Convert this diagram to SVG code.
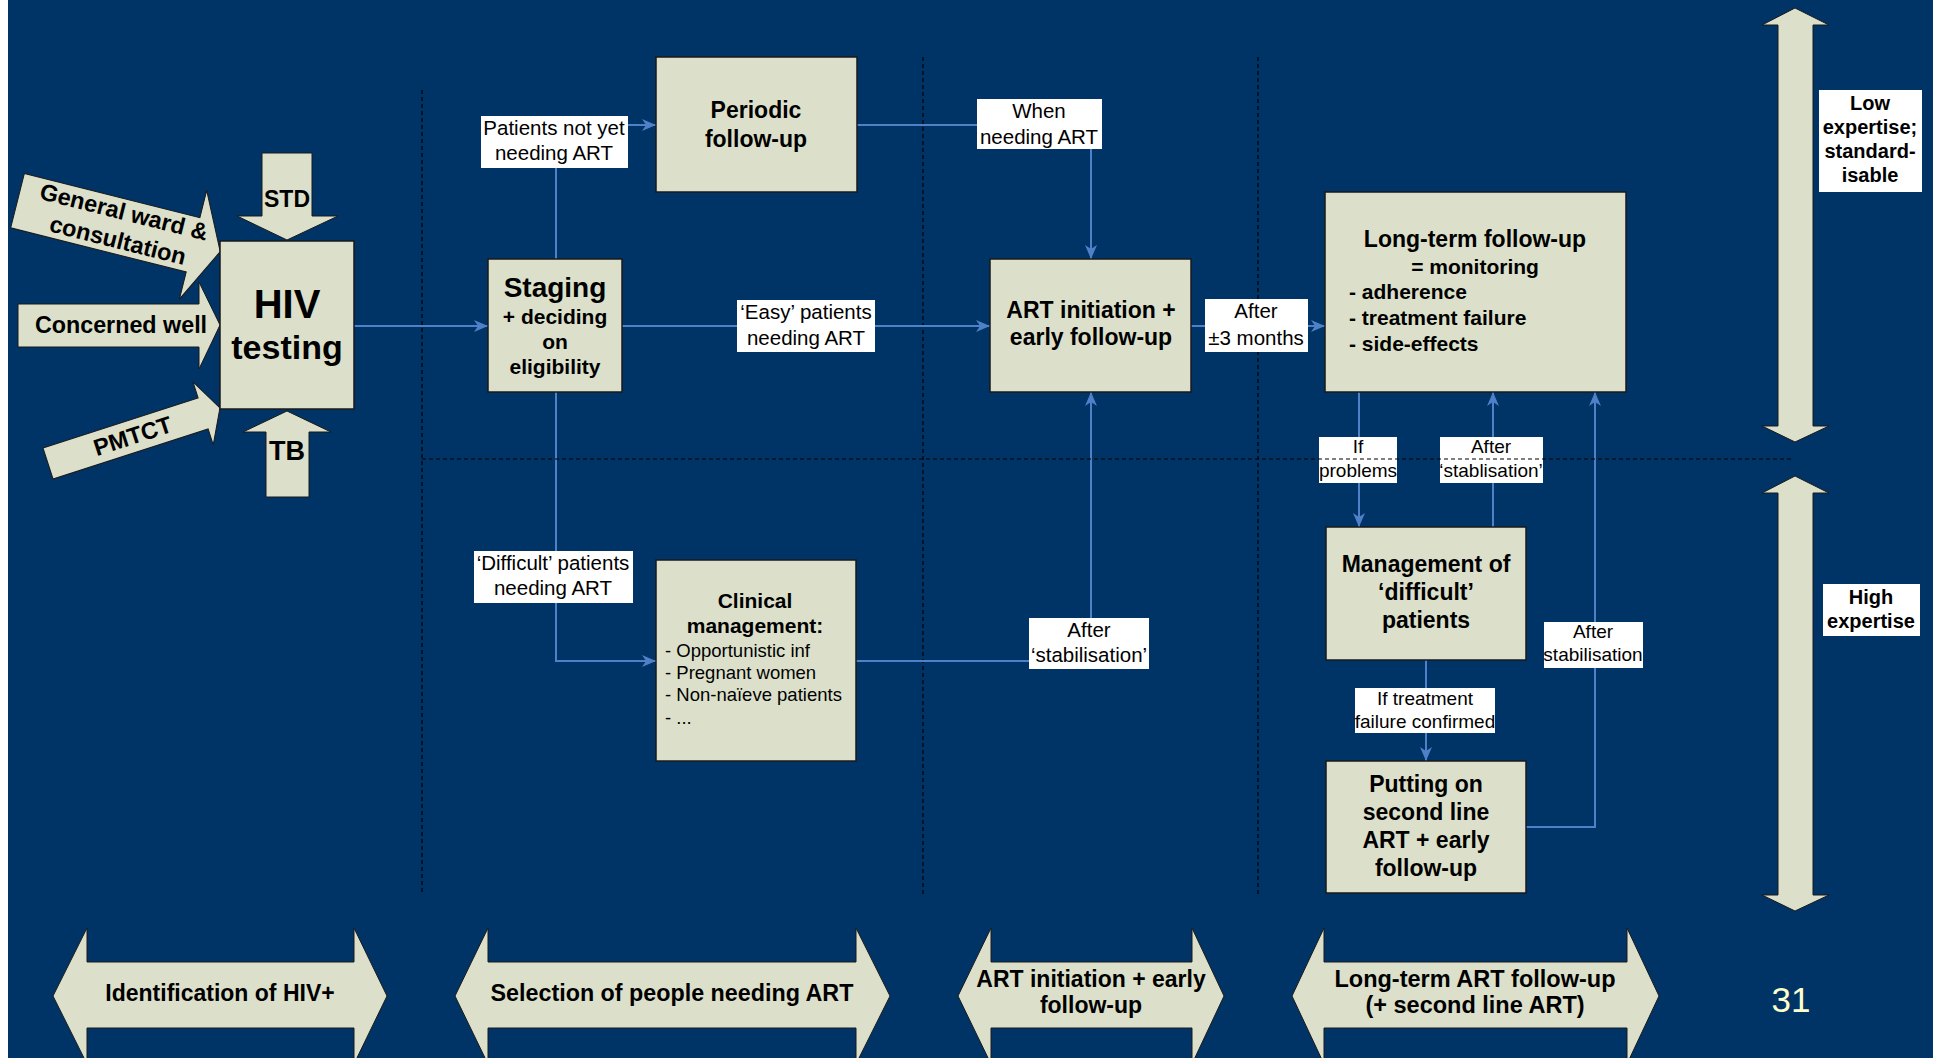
<svg xmlns="http://www.w3.org/2000/svg" width="1933" height="1058" viewBox="0 0 1933 1058">
  <defs>
    <marker id="tip" viewBox="0 0 14 12" refX="14" refY="6" markerWidth="14" markerHeight="12" markerUnits="userSpaceOnUse" orient="auto">
      <path d="M0,0 L14,6 L0,12 L4,6 Z" fill="#4F81C8"/>
    </marker>
  </defs>
  <style>
    .box { fill: #DCE0CA; stroke: #1a1a1a; stroke-width: 1.5; }
    .shape { fill: #DCE0CA; stroke: #1a1a1a; stroke-width: 1; }
    .nt { font-family: "Liberation Sans", Arial, sans-serif; font-weight: bold; fill: #000; text-anchor: middle; }
    .nl { font-family: "Liberation Sans", Arial, sans-serif; font-weight: bold; fill: #000; }
    .li { font-family: "Liberation Sans", Arial, sans-serif; fill: #000; font-size: 18.5px; }
    .lt { font-family: "Liberation Sans", Arial, sans-serif; fill: #000; text-anchor: middle; font-size: 20.5px; }
    .ls { font-family: "Liberation Sans", Arial, sans-serif; fill: #000; text-anchor: middle; font-size: 19px; }
    .lbox { fill: #ffffff; }
    .conn { fill: none; stroke: #4F81C8; stroke-width: 2; }
    .dash { fill: none; stroke: #000; stroke-width: 1.2; stroke-dasharray: 4 3; }
  </style>

  <!-- slide background -->
  <rect x="0" y="0" width="1933" height="1058" fill="#003366"/>
  <rect x="0" y="0" width="8" height="1058" fill="#ffffff"/>

  <!-- column separators -->
  <g id="separators">
    <line class="dash" x1="422" y1="90" x2="422" y2="894"/>
    <line class="dash" x1="923" y1="57" x2="923" y2="894"/>
    <line class="dash" x1="1258" y1="57" x2="1258" y2="894"/>
  </g>

  <!-- connectors -->
  <g id="connectors">
    <path class="conn" d="M354,326 H488" marker-end="url(#tip)"/>
    <path class="conn" d="M622,326 H990" marker-end="url(#tip)"/>
    <path class="conn" d="M556,259 V125 H656" marker-end="url(#tip)"/>
    <path class="conn" d="M857,125 H1091 V259" marker-end="url(#tip)"/>
    <path class="conn" d="M556,392 V661 H656" marker-end="url(#tip)"/>
    <path class="conn" d="M856,661 H1091 V392" marker-end="url(#tip)"/>
    <path class="conn" d="M1191,326 H1325" marker-end="url(#tip)"/>
    <path class="conn" d="M1359,392 V527" marker-end="url(#tip)"/>
    <path class="conn" d="M1493,527 V392" marker-end="url(#tip)"/>
    <path class="conn" d="M1426,660 V761" marker-end="url(#tip)"/>
    <path class="conn" d="M1526,827 H1595 V392" marker-end="url(#tip)"/>

    <!-- connector labels -->
    <g id="lbl-not-yet">
      <rect class="lbox" x="481" y="116" width="147" height="52"/>
      <text class="lt" x="554" y="135">Patients not yet</text>
      <text class="lt" x="554" y="160">needing ART</text>
    </g>
    <g id="lbl-easy">
      <rect class="lbox" x="737" y="300" width="138" height="52"/>
      <text class="lt" x="806" y="319">‘Easy’ patients</text>
      <text class="lt" x="806" y="345">needing ART</text>
    </g>
    <g id="lbl-when">
      <rect class="lbox" x="977" y="99" width="125" height="50"/>
      <text class="lt" x="1039" y="118">When</text>
      <text class="lt" x="1039" y="144">needing ART</text>
    </g>
    <g id="lbl-3months">
      <rect class="lbox" x="1205" y="299" width="103" height="53"/>
      <text class="lt" x="1256" y="318">After</text>
      <text class="lt" x="1256" y="345">±3 months</text>
    </g>
    <g id="lbl-difficult">
      <rect class="lbox" x="474" y="551" width="159" height="52"/>
      <text class="lt" x="553" y="570">‘Difficult’ patients</text>
      <text class="lt" x="553" y="595">needing ART</text>
    </g>
    <g id="lbl-stab1">
      <rect class="lbox" x="1029" y="618" width="120" height="51"/>
      <text class="lt" x="1089" y="637">After</text>
      <text class="lt" x="1089" y="662">‘stabilisation’</text>
    </g>
    <g id="lbl-problems">
      <rect class="lbox" x="1319" y="437" width="78" height="46"/>
      <text class="ls" x="1358" y="453">If</text>
      <text class="ls" x="1358" y="477">problems</text>
    </g>
    <g id="lbl-stab2">
      <rect class="lbox" x="1440" y="437" width="103" height="46"/>
      <text class="ls" x="1491" y="453">After</text>
      <text class="ls" x="1491" y="477">‘stablisation’</text>
    </g>
    <g id="lbl-stab3">
      <rect class="lbox" x="1544" y="622" width="99" height="46"/>
      <text class="ls" x="1593" y="638">After</text>
      <text class="ls" x="1593" y="661">stabilisation</text>
    </g>
    <g id="lbl-failure">
      <rect class="lbox" x="1355" y="688" width="140" height="45"/>
      <text class="ls" x="1425" y="705">If treatment</text>
      <text class="ls" x="1425" y="728">failure confirmed</text>
    </g>
  </g>

  <!-- expertise boundary -->
  <line class="dash" x1="422" y1="459" x2="1793" y2="459"/>

  <!-- entry points into testing -->
  <g id="in-general-ward" transform="translate(17.5,200.7) rotate(14.1)">
    <polygon class="shape" points="0,-28 181,-28 181,-56 209,0 181,56 181,28 0,28"/>
    <text class="nt" x="106" y="-7" font-size="23.5">General ward &amp;</text>
    <text class="nt" x="107" y="22" font-size="23.5">consultation</text>
  </g>
  <g id="in-concerned-well">
    <polygon class="shape" points="18,304 199,304 199,282 220,325 199,369 199,347 18,347"/>
    <text class="nt" x="121" y="333" font-size="23.3">Concerned well</text>
  </g>
  <g id="in-pmtct" transform="translate(48,463.5) rotate(-17.9)">
    <polygon class="shape" points="0,-16.3 163,-16.3 163,-33 180.7,0 163,33 163,16.3 0,16.3"/>
    <text class="nt" x="89" y="8" font-size="23.5">PMTCT</text>
  </g>
  <g id="in-std">
    <polygon class="shape" points="262,153 312,153 312,216 338,216 287,240 237,216 262,216"/>
    <text class="nt" x="287" y="207" font-size="23">STD</text>
  </g>
  <g id="in-tb">
    <polygon class="shape" points="287,411 331,432 309,432 309,497 266,497 266,432 243,432"/>
    <text class="nt" x="287" y="460" font-size="27">TB</text>
  </g>

  <!-- process nodes -->
  <g id="hiv-testing">
    <rect class="box" x="220" y="241" width="134" height="168"/>
    <text class="nt" x="287" y="318" font-size="40">HIV</text>
    <text class="nt" x="287" y="359" font-size="34">testing</text>
  </g>
  <g id="staging">
    <rect class="box" x="488" y="259" width="134" height="133"/>
    <text class="nt" x="555" y="297" font-size="28">Staging</text>
    <text class="nt" x="555" y="324" font-size="21">+ deciding</text>
    <text class="nt" x="555" y="349" font-size="21">on</text>
    <text class="nt" x="555" y="374" font-size="21">eligibility</text>
  </g>
  <g id="periodic">
    <rect class="box" x="656" y="57" width="201" height="135"/>
    <text class="nt" x="756" y="118" font-size="23">Periodic</text>
    <text class="nt" x="756" y="147" font-size="23">follow-up</text>
  </g>
  <g id="clinical">
    <rect class="box" x="656" y="560" width="200" height="201"/>
    <text class="nt" x="755" y="608" font-size="21">Clinical</text>
    <text class="nt" x="755" y="633" font-size="21">management:</text>
    <text class="li" x="665" y="657">- Opportunistic inf</text>
    <text class="li" x="665" y="679">- Pregnant women</text>
    <text class="li" x="665" y="701">- Non-naïeve patients</text>
    <text class="li" x="665" y="724">- ...</text>
  </g>
  <g id="art-initiation">
    <rect class="box" x="990" y="259" width="201" height="133"/>
    <text class="nt" x="1091" y="318" font-size="23">ART initiation +</text>
    <text class="nt" x="1091" y="345" font-size="23">early follow-up</text>
  </g>
  <g id="long-term">
    <rect class="box" x="1325" y="192" width="301" height="200"/>
    <text class="nt" x="1475" y="247" font-size="23">Long-term follow-up</text>
    <text class="nt" x="1475" y="274" font-size="21">= monitoring</text>
    <text class="nl" x="1349" y="299" font-size="21">- adherence</text>
    <text class="nl" x="1349" y="325" font-size="21">- treatment failure</text>
    <text class="nl" x="1349" y="351" font-size="21">- side-effects</text>
  </g>
  <g id="difficult">
    <rect class="box" x="1326" y="527" width="200" height="133"/>
    <text class="nt" x="1426" y="572" font-size="23">Management of</text>
    <text class="nt" x="1426" y="600" font-size="23">‘difficult’</text>
    <text class="nt" x="1426" y="628" font-size="23">patients</text>
  </g>
  <g id="second-line">
    <rect class="box" x="1326" y="761" width="200" height="132"/>
    <text class="nt" x="1426" y="792" font-size="23">Putting on</text>
    <text class="nt" x="1426" y="820" font-size="23">second line</text>
    <text class="nt" x="1426" y="848" font-size="23">ART + early</text>
    <text class="nt" x="1426" y="876" font-size="23">follow-up</text>
  </g>

  <!-- phase bands -->
  <g id="phase-identification">
    <polygon class="shape" points="53,996 87,928 87,962 354,962 354,928 387,996 354,1064 354,1028 87,1028 87,1064"/>
    <text class="nt" x="220" y="1001" font-size="23">Identification of HIV+</text>
  </g>
  <g id="phase-selection">
    <polygon class="shape" points="455,996 488,928 488,962 856,962 856,928 890,996 856,1064 856,1028 488,1028 488,1064"/>
    <text class="nt" x="672" y="1001" font-size="23.3">Selection of people needing ART</text>
  </g>
  <g id="phase-initiation">
    <polygon class="shape" points="958,996 991,928 991,962 1192,962 1192,928 1224,996 1192,1064 1192,1028 991,1028 991,1064"/>
    <text class="nt" x="1091" y="987" font-size="23">ART initiation + early</text>
    <text class="nt" x="1091" y="1013" font-size="23">follow-up</text>
  </g>
  <g id="phase-long-term">
    <polygon class="shape" points="1292,996 1324,928 1324,962 1627,962 1627,928 1659,996 1627,1064 1627,1028 1324,1028 1324,1064"/>
    <text class="nt" x="1475" y="987" font-size="23.5">Long-term ART follow-up</text>
    <text class="nt" x="1475" y="1013" font-size="23.5">(+ second line ART)</text>
  </g>

  <!-- expertise scale -->
  <g id="scale-low">
    <polygon class="shape" points="1795,8 1829,25 1813,25 1813,426 1829,426 1795,442 1762,426 1778,426 1778,25 1762,25"/>
    <rect class="lbox" x="1819" y="90" width="103" height="102"/>
    <text class="nt" x="1870" y="110" font-size="20">Low</text>
    <text class="nt" x="1870" y="134" font-size="20">expertise;</text>
    <text class="nt" x="1870" y="158" font-size="20">standard-</text>
    <text class="nt" x="1870" y="182" font-size="20">isable</text>
  </g>
  <g id="scale-high">
    <polygon class="shape" points="1795,476 1829,493 1813,493 1813,895 1829,895 1795,911 1762,895 1778,895 1778,493 1762,493"/>
    <rect class="lbox" x="1823" y="584" width="97" height="52"/>
    <text class="nt" x="1871" y="604" font-size="20">High</text>
    <text class="nt" x="1871" y="628" font-size="20">expertise</text>
  </g>

  <text x="1791" y="1012" font-family="Liberation Sans, Arial, sans-serif" font-size="35" fill="#FFFFCC" text-anchor="middle">31</text>
</svg>
